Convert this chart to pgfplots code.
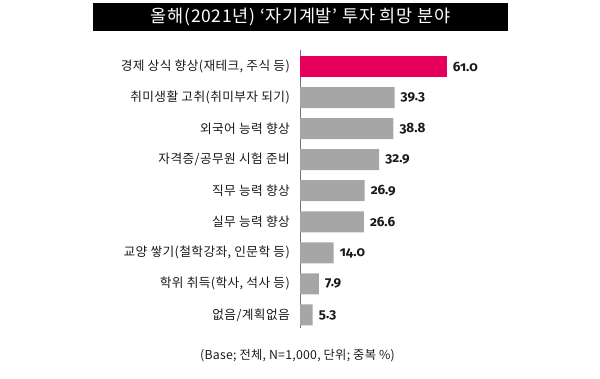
\documentclass[border=0pt]{standalone}
\usepackage{fontspec}
\setmainfont{Noto Sans CJK KR}
\newfontfamily\numfont[Numbers=OldStyle]{Fira Sans}
\usepackage{pgfplots}
\pgfplotsset{compat=1.18}
\definecolor{hot}{HTML}{E6005C}
\definecolor{bargray}{HTML}{A6A6A6}
\definecolor{txt}{HTML}{1A1A1A}
\begin{document}
\begin{tikzpicture}[x=1pt,y=1pt]
\useasboundingbox (0,0) rectangle (600,378);
\node[fill=black, text=white, minimum width=415pt, minimum height=28pt, inner sep=0pt, font=\fontsize{17.5}{19}\selectfont\addfontfeatures{LetterSpace=4}] at (300.5,361) {올해(2021년) ‘자기계발’ 투자 희망 분야};
\begin{axis}[
  at={(300pt,328pt)}, anchor=north west,
  scale only axis, width=240.5pt, height=278pt,
  xmin=0, xmax=100, ymin=-0.53, ymax=8.42, y dir=reverse,
  hide x axis, axis y line*=left,
  axis line style={draw=black!55, line width=0.8pt},
  xbar, bar width=21pt, bar shift=0pt,
  ytick={0,...,8}, major tick length=0pt,
  yticklabels={경제 상식 향상(재테크{,} 주식 등), 취미생활 고취(취미부자 되기), 외국어 능력 향상, 자격증/공무원 시험 준비, 직무 능력 향상, 실무 능력 향상, 교양 쌓기(철학강좌{,} 인문학 등), 학위 취득(학사{,} 석사 등), 없음/계획없음},
  yticklabel style={font=\fontsize{12.7}{14}\selectfont\addfontfeatures{LetterSpace=3}, text=txt, inner sep=0pt, anchor=east, xshift=-10pt},
  /pgf/number format/assume math mode=true,
  nodes near coords={\pgfmathprintnumber[fixed,fixed zerofill,precision=1]{\pgfplotspointmeta}},
  every node near coord/.append style={font=\numfont\bfseries\fontsize{13.5}{15}\selectfont, text=txt, anchor=west, inner sep=0pt, xshift=6pt},
  clip=false,
]
\addplot[fill=hot, draw=none] coordinates {(61.0,0)};
\addplot[fill=bargray, draw=none] coordinates {(39.3,1) (38.8,2) (32.9,3) (26.9,4) (26.6,5) (14.0,6) (7.9,7) (5.3,8)};
\end{axis}
\node[font=\fontsize{12.3}{14}\selectfont\addfontfeatures{LetterSpace=2}, text=txt] at (297.5,22) {(Base; 전체, N=1,000, 단위; 중복 \%)};
\end{tikzpicture}
\end{document}
